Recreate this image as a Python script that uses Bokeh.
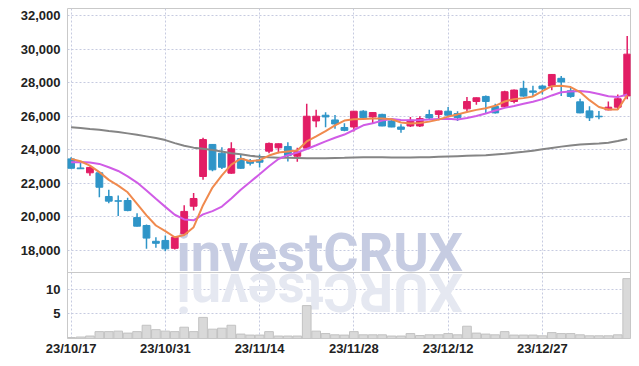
import math
from bokeh.plotting import figure
from bokeh.models import (ColumnDataSource, FixedTicker, NumeralTickFormatter, Label,
                          Range1d, Span)
from bokeh.embed import file_html
from bokeh.resources import INLINE

dates = ["23/10/17", "23/10/18", "23/10/19", "23/10/20", "23/10/23", "23/10/24", "23/10/25", "23/10/26",
         "23/10/27", "23/10/30", "23/10/31", "23/11/01", "23/11/02", "23/11/03", "23/11/06", "23/11/07",
         "23/11/08", "23/11/09", "23/11/10", "23/11/13", "23/11/14", "23/11/15", "23/11/16", "23/11/17",
         "23/11/20", "23/11/21", "23/11/22", "23/11/23", "23/11/24", "23/11/27", "23/11/28", "23/11/29",
         "23/11/30", "23/12/01", "23/12/04", "23/12/05", "23/12/06", "23/12/07", "23/12/08", "23/12/11",
         "23/12/12", "23/12/13", "23/12/14", "23/12/15", "23/12/18", "23/12/19", "23/12/20", "23/12/21",
         "23/12/22", "23/12/26", "23/12/27", "23/12/28", "24/01/02", "24/01/03", "24/01/04", "24/01/05",
         "24/01/08", "24/01/09", "24/01/10", "24/01/11"]

opens = [23460, 22920, 22630, 22630, 21220, 20960, 20980, 19960, 19490, 18550,
         18600, 18130, 19000, 20640, 22410, 24320, 23800, 22610, 23480, 23360,
         23400, 23920, 24120, 24200, 23620, 24100, 25720, 26060, 25780, 25330,
         25360, 26300, 25960, 26110, 25720, 25360, 25420, 25420, 26100, 26110,
         26300, 26160, 26440, 26880, 27180, 26580, 26560, 26880, 27660, 27510,
         27800, 27800, 28260, 27520, 26860, 26320, 26000, 26380, 26540, 27210]
highs = [23560, 23260, 23000, 22650, 21620, 21280, 21140, 20220, 19550, 18790,
         18900, 18850, 20690, 21430, 24720, 24350, 24160, 24450, 23700, 23460,
         23720, 24440, 24380, 24450, 24120, 26750, 26380, 26240, 26080, 25590,
         26320, 26360, 26240, 26150, 25860, 25520, 25960, 26000, 26380, 26340,
         26550, 26300, 27140, 27120, 27240, 26740, 27520, 27600, 28110, 27820,
         27880, 28520, 28400, 27720, 27040, 26600, 26320, 26880, 27300, 30780]
lows = [22880, 22850, 22460, 21180, 20820, 20050, 20340, 19430, 18100, 18160,
        17960, 18060, 18950, 20380, 22210, 22730, 22850, 22570, 22870, 23060,
        22950, 23800, 23800, 23300, 23290, 24050, 25350, 25350, 25250, 25100,
        25090, 25900, 25600, 25400, 25340, 25020, 25360, 25360, 25840, 25760,
        26000, 25720, 26300, 26680, 26200, 26160, 26500, 26780, 27160, 27200,
        27300, 27550, 27200, 27100, 26180, 25720, 25820, 26360, 26420, 27020]
closes = [22900, 22870, 22950, 21770, 20940, 20940, 20380, 19450, 18740, 18430,
          18100, 18790, 20330, 21100, 24610, 22810, 22960, 24060, 22900, 23200,
          23260, 24380, 24360, 23660, 23900, 26000, 26000, 25960, 25540, 25160,
          26300, 25920, 26220, 25420, 25360, 25220, 25760, 25860, 25900, 26320,
          26060, 25920, 26880, 27100, 26880, 26200, 27460, 27560, 27200, 27430,
          27640, 28490, 28040, 27180, 26200, 25910, 25970, 26540, 27040, 29700]

volume_m = [0.2, 0.3, 0.5, 1.4, 1.4, 1.5, 1.1, 1.4, 2.7, 1.8,
            1.5, 1.4, 2.3, 1.4, 4.3, 1.9, 2.1, 2.7, 0.9, 0.7,
            0.7, 1.4, 0.5, 0.5, 0.5, 6.7, 1.5, 1.0, 0.75, 0.7,
            1.4, 0.75, 0.75, 0.75, 0.5, 0.5, 1.0, 0.6, 0.75, 0.75,
            1.0, 0.75, 2.5, 1.1, 0.9, 0.75, 1.4, 0.7, 0.7, 0.7,
            0.55, 1.2, 1.0, 1.0, 0.75, 0.55, 0.55, 0.55, 0.75, 12.2]

ma_short = [23460, 23320, 23060, 22670, 22210, 21870, 21470, 20780, 20090, 19490,
            19150, 18790, 18930, 19390, 20700, 21750, 22480, 23120, 23480, 23320,
            23380, 23660, 23840, 23900, 23960, 24500, 24800, 25120, 25450, 25740,
            25820, 25840, 25860, 25860, 25820, 25630, 25570, 25600, 25680, 25800,
            25980, 26110, 26250, 26380, 26480, 26620, 26880, 27020, 27080, 27180,
            27500, 27790, 27820, 27740, 27440, 26960, 26550, 26400, 26400, 27250]
ma_mid = [23260, 23270, 23240, 23160, 22960, 22740, 22420, 22050, 21580, 21080,
          20600, 20130, 19850, 19800, 20150, 20350, 20620, 21100, 21620, 22080,
          22550, 23020, 23450, 23680, 23840, 24050, 24270, 24500, 24720, 24910,
          25180, 25460, 25580, 25740, 25830, 25780, 25760, 25770, 25800, 25840,
          25850, 25810, 25890, 26010, 26160, 26340, 26500, 26610, 26740, 26860,
          27020, 27240, 27430, 27480, 27500, 27440, 27330, 27190, 27140, 27300]
ma_long = [25340, 25300, 25240, 25190, 25120, 25060, 24980, 24900, 24800, 24700,
           24580, 24400, 24240, 24130, 24060, 23990, 23900, 23800, 23730, 23640,
           23590, 23550, 23530, 23520, 23510, 23500, 23500, 23500, 23510, 23520,
           23540, 23550, 23550, 23550, 23540, 23540, 23540, 23550, 23560, 23580,
           23600, 23620, 23640, 23660, 23680, 23720, 23760, 23820, 23880, 23950,
           24030, 24110, 24190, 24260, 24310, 24350, 24380, 24420, 24520, 24640]

price_ticks = [18000, 20000, 22000, 24000, 26000, 28000, 30000, 32000]
volume_ticks = [5, 10]
volume_tick_labels = ["5", "10"]
date_tick_idx = [0, 10, 20, 30, 40, 50]

# ---- layout constants (pixels / view ranges) ----
FRAME_W = 563
MAIN_PX = 264          # price panel height
VOL_PX = 66            # volume panel height
P_HI, P_BOT = 32420, 16690   # visible price window of the price panel
VOL_MAX = 13.45              # visible volume window (millions) of the volume panel
P_LO = P_BOT - (P_HI - P_BOT) * VOL_PX / MAIN_PX
VOL_TOP = VOL_MAX * (MAIN_PX + VOL_PX) / VOL_PX
WM_SHIFT = 20          # centre-anchored text: baseline offset in px


def vol_pos(v):
    # position of a volume value on the shared vertical scale
    return P_LO + v * (P_HI - P_LO) / VOL_TOP


UP = "#e21d65"
DOWN = "#2f95c8"
FONT = "Liberation Sans"
WM_FONT = "Roboto"
GRID = "#c6cbe0"
OUTLINE = "#c9c9c9"

idx = list(range(len(dates)))
colors = [UP if c >= o else DOWN for o, c in zip(opens, closes)]
src = ColumnDataSource(dict(
    x=idx, high=highs, low=lows,
    top=[max(o, c) for o, c in zip(opens, closes)],
    bottom=[min(o, c) for o, c in zip(opens, closes)],
    color=colors, vol=volume_m,
    ma_s=ma_short, ma_m=ma_mid, ma_l=ma_long,
))

p = figure(frame_width=FRAME_W, frame_height=MAIN_PX + VOL_PX,
           x_range=Range1d(-0.38, 59.35), y_range=Range1d(P_LO, P_HI),
           output_backend="svg", toolbar_location=None,
           min_border_left=67, min_border_right=1, min_border_top=8, min_border_bottom=20,
           background_fill_color="white", border_fill_color="white")
p.extra_y_ranges = {"vol": Range1d(0, VOL_TOP)}
p.outline_line_color = OUTLINE

# watermark and its reflection
p.add_layout(Label(x=109, y=VOL_PX + WM_SHIFT, x_units="screen", y_units="screen",
                   text="investCRUX", text_font=WM_FONT, text_font_style="bold",
                   text_font_size="54px", text_color="#c6cce2", text_align="left",
                   text_baseline="middle", level="underlay"))
p.add_layout(Label(x=109, y=VOL_PX - WM_SHIFT, x_units="screen", y_units="screen",
                   text="investCRUX"[::-1], angle=math.pi, text_font=WM_FONT,
                   text_font_style="bold", text_font_size="54px", text_color="#e5e8f1",
                   text_align="right", text_baseline="middle", level="underlay"))

# volume
p.vbar(x="x", top="vol", bottom=0, width=0.92, source=src, y_range_name="vol",
       fill_color="#d9d9d9", line_color="#c2c2c2", line_width=1)

# separator between panels
p.add_layout(Span(location=P_BOT, dimension="width", line_color=OUTLINE, line_width=1))

# candles
p.segment(x0="x", y0="low", x1="x", y1="high", source=src, line_color="color", line_width=1.5)
p.vbar(x="x", top="top", bottom="bottom", width=0.72, source=src,
       fill_color="color", line_color="color", line_width=1)

# moving averages
p.line(x="x", y="ma_l", source=src, line_color="#858585", line_width=2)
p.line(x="x", y="ma_m", source=src, line_color="#d05ce6", line_width=2)
p.line(x="x", y="ma_s", source=src, line_color="#f08a4e", line_width=2)

# axes
vol_positions = [vol_pos(v) for v in volume_ticks]
yticker = FixedTicker(ticks=price_ticks + vol_positions)
p.yaxis.ticker = yticker
p.yaxis.formatter = NumeralTickFormatter(format="0,0")
p.yaxis.major_label_overrides = {pos: lab for pos, lab in zip(vol_positions, volume_tick_labels)}
p.ygrid.ticker = yticker

p.xaxis.ticker = FixedTicker(ticks=date_tick_idx)
p.xaxis.major_label_overrides = {i: dates[i] for i in date_tick_idx}
p.xgrid.ticker = FixedTicker(ticks=date_tick_idx)

p.add_layout(Label(x=-36, y=VOL_PX / 2, x_units="screen", y_units="screen", text="10\u2076",
                   angle=math.pi / 2, text_font="DejaVu Sans", text_font_size="12px",
                   text_color="#444444", text_align="center", text_baseline="middle"))

for ax in p.xaxis + p.yaxis:
    ax.axis_line_color = None
    ax.major_tick_line_color = None
    ax.minor_tick_line_color = None
    ax.major_tick_out = 0
    ax.major_tick_in = 0
    ax.minor_tick_out = 0
    ax.major_label_text_font = FONT
    ax.major_label_text_font_style = "bold"
    ax.major_label_text_font_size = "13px"
    ax.major_label_text_color = "#222222"
p.yaxis.major_label_standoff = 7
p.xaxis.major_label_standoff = 2

for g in p.xgrid + p.ygrid:
    g.grid_line_color = GRID
    g.grid_line_dash = "2 2"
    g.grid_line_width = 1

open("out.html", "w").write(file_html(p, INLINE))
